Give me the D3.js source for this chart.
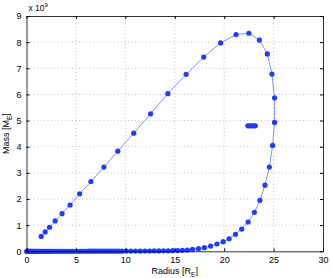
<!DOCTYPE html>
<html>
<head>
<meta charset="UTF-8">
<script src="https://d3js.org/d3.v7.min.js"></script>
<style>
  body { margin: 0; padding: 0; background: #fff; }
  svg { display: block; font-family: "Liberation Sans", Arial, sans-serif; }
  .grid line { stroke: #b4b4b4; stroke-dasharray: 1,2.5; stroke-width: 0.8px; }
  .axis text { font-size: 9px; fill: #000; }
  .axis path, .axis line { stroke: #000; }
</style>
</head>
<body>
<div id="chart"></div>
<script>
// radius [R_E] along the curve, from the first upper point to the bottom branch
const radius = [1.49, 1.89, 2.33, 2.90, 3.60, 4.41, 5.38, 6.52, 7.83, 9.24,
  10.85, 12.56, 14.30, 16.15, 17.93, 19.64, 21.20, 22.50, 23.56, 24.37,
  24.83, 25.10, 25.10, 24.90, 24.57, 24.13, 23.62, 23.06, 22.42, 21.78,
  21.14, 20.50, 19.90, 19.27, 18.63, 17.99, 17.40, 16.80, 16.28, 15.78,
  15.30, 14.80, 14.33, 13.86, 13.39, 12.92, 12.45, 11.98, 11.50, 11.03,
  10.56, 10.10, 9.65, 9.30, 9.00, 8.70, 8.40, 8.10, 7.80, 7.50,
  7.20, 6.90, 6.60, 6.30, 6.00, 5.70, 5.45, 5.20, 4.95, 4.70,
  4.45, 4.20, 3.95, 3.70, 3.48, 3.26, 3.04, 2.82, 2.60, 2.40,
  2.20, 2.00, 1.80, 1.62, 1.45, 1.29, 1.14, 1.00, 0.87, 0.75,
  0.64, 0.54, 0.45, 0.37, 0.30, 0.24, 0.18, 0.13, 0.09, 0.05, 0.02];
// mass [x 10^9 M_E]
const mass = [0.57, 0.74, 0.92, 1.16, 1.44, 1.77, 2.20, 2.67, 3.22, 3.83,
  4.52, 5.26, 6.03, 6.77, 7.43, 7.97, 8.29, 8.34, 8.08, 7.55,
  6.78, 5.87, 4.93, 4.05, 3.22, 2.53, 1.95, 1.49, 1.12, 0.85,
  0.65, 0.48, 0.37, 0.28, 0.20, 0.14, 0.10, 0.075, 0.05, 0.04,
  0.03, 0.025, 0.02, 0.018, 0.016, 0.014, 0.012, 0.011, 0.01, 0.009,
  0.008, 0.007, 0.006, 0.006, 0.005, 0.005, 0.005, 0.004, 0.004, 0.004,
  0.003, 0.003, 0.003, 0.003, 0.002, 0.002, 0.002, 0.002, 0.002, 0.002,
  0.001, 0.001, 0.001, 0.001, 0.001, 0.001, 0.001, 0.001, 0.001, 0.001,
  0, 0, 0, 0, 0, 0, 0, 0, 0, 0,
  0, 0, 0, 0, 0, 0, 0, 0, 0, 0, 0];
// small separate cluster
const clusterRadius = [22.40, 22.60, 22.80, 23.00, 23.15];
const clusterMass = [4.80, 4.80, 4.80, 4.80, 4.80];

const xTicks = [0, 5, 10, 15, 20, 25, 30];
const yTicks = [0, 1, 2, 3, 4, 5, 6, 7, 8, 9];

const W = 332, H = 278;
const m = { left: 26.5, right: 9, top: 16, bottom: 26.7 };
const iw = W - m.left - m.right, ih = H - m.top - m.bottom;

const svg = d3.select("#chart").append("svg").attr("width", W).attr("height", H);
const g = svg.append("g").attr("transform", `translate(${m.left},${m.top})`);

const x = d3.scaleLinear().domain([0, 30]).range([0, iw]);
const y = d3.scaleLinear().domain([0, 9]).range([ih, 0]);

// dotted grid
g.append("g").attr("class", "grid")
  .selectAll("line.v").data(xTicks.slice(1, -1)).enter().append("line")
  .attr("x1", d => x(d)).attr("x2", d => x(d)).attr("y1", 0).attr("y2", ih);
g.append("g").attr("class", "grid")
  .selectAll("line.h").data(yTicks.slice(1, -1)).enter().append("line")
  .attr("y1", d => y(d)).attr("y2", d => y(d)).attr("x1", 0).attr("x2", iw);

const pts = radius.map((r, i) => [r, mass[i]]);
const cl = clusterRadius.map((r, i) => [r, clusterMass[i]]);

g.append("path").datum(pts)
  .attr("fill", "none").attr("stroke", "#5a78ff").attr("stroke-width", 0.8)
  .attr("d", d3.line().x(d => x(d[0])).y(d => y(d[1])));

g.selectAll("circle.p").data(pts.concat(cl)).enter().append("circle")
  .attr("cx", d => x(d[0])).attr("cy", d => y(d[1])).attr("r", 2.6)
  .attr("fill", "#1e3cff");

// axes with inward ticks, box all round
g.append("g").attr("class", "axis").attr("transform", `translate(0,${ih})`)
  .call(d3.axisBottom(x).tickValues(xTicks).tickSizeInner(-3).tickSizeOuter(0).tickPadding(5));
g.append("g").attr("class", "axis")
  .call(d3.axisLeft(y).tickValues(yTicks).tickSizeInner(-3).tickSizeOuter(0).tickPadding(5));
g.append("g").attr("class", "axis").call(d3.axisTop(x).tickValues(xTicks).tickSizeInner(-3).tickSizeOuter(0).tickFormat(""));
g.append("g").attr("class", "axis").attr("transform", `translate(${iw},0)`)
  .call(d3.axisRight(y).tickValues(yTicks).tickSizeInner(-3).tickSizeOuter(0).tickFormat(""));
svg.selectAll(".domain").attr("stroke-width", 0.8);

// exponent label
const ex = svg.append("text").attr("x", m.left + 2).attr("y", m.top - 5)
  .attr("font-size", 8.5);
ex.append("tspan").text("x 10");
ex.append("tspan").attr("font-size", 6).attr("dy", -4).text("9");

// axis titles
const xl = svg.append("text").attr("x", m.left + iw / 2).attr("y", H - 4)
  .attr("text-anchor", "middle").attr("font-size", 9);
xl.append("tspan").text("Radius [R");
xl.append("tspan").attr("font-size", 6.5).attr("dy", 2.5).text("E");
xl.append("tspan").attr("dy", -2.5).text("]");

const yl = svg.append("text")
  .attr("transform", `translate(9,${m.top + ih / 2}) rotate(-90)`)
  .attr("text-anchor", "middle").attr("font-size", 9);
yl.append("tspan").text("Mass [M");
yl.append("tspan").attr("font-size", 6.5).attr("dy", 2.5).text("E");
yl.append("tspan").attr("dy", -2.5).text("]");
</script>
</body>
</html>
